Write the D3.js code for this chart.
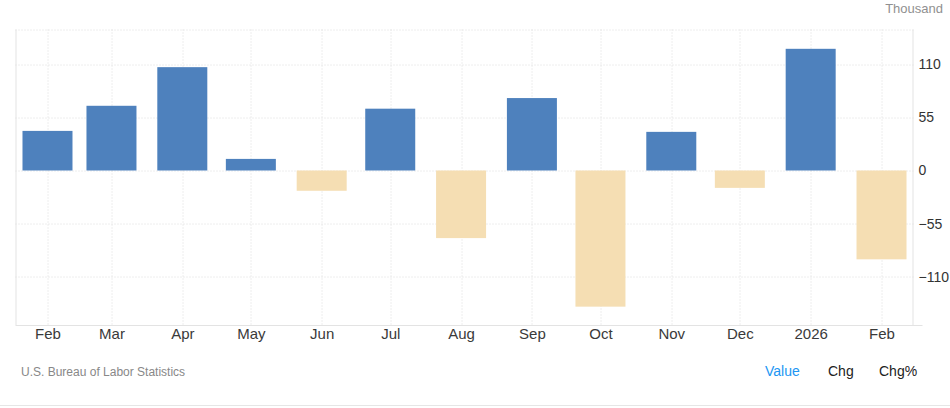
<!DOCTYPE html>
<html>
<head>
<meta charset="utf-8">
<script src="https://cdn.jsdelivr.net/npm/d3@7"></script>
<style>
  body { margin: 0; background: #fff; }
  svg { display: block; font-family: "Liberation Sans", Arial, sans-serif; }
</style>
</head>
<body>
<div id="chart"></div>
<script>
// monthly values, thousand
const months = ["2025-02-01", "2025-03-01", "2025-04-01", "2025-05-01", "2025-06-01", "2025-07-01",
  "2025-08-01", "2025-09-01", "2025-10-01", "2025-11-01", "2025-12-01", "2026-01-01", "2026-02-01"];
const values = [41, 67, 107, 12, -21, 64, -70, 75, -141, 40, -18, 126, -92];
const tickLabels = ["Feb", "Mar", "Apr", "May", "Jun", "Jul", "Aug", "Sep", "Oct", "Nov", "Dec", "2026", "Feb"];
const yTicks = [-110, -55, 0, 55, 110];
const yDomain = [-160, 146];

const width = 950, height = 408;
const margin = { top: 29.5, right: 36.5, bottom: 83, left: 15.5 };
const innerW = width - margin.left - margin.right;
const innerH = height - margin.top - margin.bottom;

const parse = d3.timeParse("%Y-%m-%d");
const data = months.map((m, i) => ({ date: parse(m), value: values[i] }));

const svg = d3.select("#chart").append("svg")
  .attr("width", width)
  .attr("height", height);

const chart = svg.append("g")
  .attr("transform", `translate(${margin.left},${margin.top})`);

const x = d3.scaleTime()
  .domain([d3.timeDay.offset(data[0].date, -14), d3.timeDay.offset(data[data.length - 1].date, 14)])
  .range([0, innerW]);

const y = d3.scaleLinear()
  .domain(yDomain)
  .range([innerH, 0]);

// grid
chart.append("g")
  .selectAll("line")
  .data(data)
  .join("line")
  .attr("x1", d => Math.round(x(d.date)) + 0.5)
  .attr("x2", d => Math.round(x(d.date)) + 0.5)
  .attr("y1", 0)
  .attr("y2", innerH)
  .attr("stroke", "#dcdcdc")
  .attr("stroke-dasharray", "1,2");

chart.append("g")
  .selectAll("line")
  .data(yTicks.concat([yDomain[1]]))
  .join("line")
  .attr("x1", 0)
  .attr("x2", innerW)
  .attr("y1", d => Math.round(y(d)) + 0.5)
  .attr("y2", d => Math.round(y(d)) + 0.5)
  .attr("stroke", "#dcdcdc")
  .attr("stroke-dasharray", "1,2");

// frame: left, right, bottom
chart.append("line")
  .attr("x1", 0.5).attr("x2", 0.5).attr("y1", 0).attr("y2", innerH)
  .attr("stroke", "#e3e3e3");
chart.append("line")
  .attr("x1", innerW - 0.5).attr("x2", innerW - 0.5).attr("y1", 0).attr("y2", innerH)
  .attr("stroke", "#e3e3e3");
chart.append("line")
  .attr("x1", 0).attr("x2", innerW + 9).attr("y1", innerH + 0.5).attr("y2", innerH + 0.5)
  .attr("stroke", "#e3e3e3");

// bars
const barW = 50;
chart.append("g")
  .selectAll("rect")
  .data(data)
  .join("rect")
  .attr("x", d => x(d.date) - barW / 2)
  .attr("width", barW)
  .attr("y", d => y(Math.max(0, d.value)))
  .attr("height", d => Math.abs(y(d.value) - y(0)))
  .attr("fill", d => d.value >= 0 ? "#4e81bd" : "#f5deb3");

// x axis labels
const xAxis = d3.axisBottom(x)
  .tickValues(data.map(d => d.date))
  .tickFormat((d, i) => tickLabels[i])
  .tickSize(0)
  .tickPadding(3);

chart.append("g")
  .attr("transform", `translate(0,${innerH})`)
  .call(xAxis)
  .call(g => g.select(".domain").remove())
  .selectAll("text")
  .attr("font-size", 15)
  .attr("font-family", "Liberation Sans, Arial, sans-serif")
  .attr("fill", "#3a3a3a");

// y axis labels
const yAxis = d3.axisRight(y)
  .tickValues(yTicks)
  .tickSize(0)
  .tickPadding(5);

chart.append("g")
  .attr("transform", `translate(${innerW},0)`)
  .call(yAxis)
  .call(g => g.select(".domain").remove())
  .selectAll("text")
  .attr("font-size", 14)
  .attr("font-family", "Liberation Sans, Arial, sans-serif")
  .attr("fill", "#333");

svg.append("text")
  .attr("x", 943)
  .attr("y", 13)
  .attr("text-anchor", "end")
  .attr("font-size", 13)
  .attr("fill", "#909090")
  .text("Thousand");

svg.append("text")
  .attr("x", 21)
  .attr("y", 376)
  .attr("font-size", 12)
  .attr("fill", "#888")
  .text("U.S. Bureau of Labor Statistics");

const toggles = [
  { label: "Value", x: 765, color: "#2196f3" },
  { label: "Chg", x: 828, color: "#222" },
  { label: "Chg%", x: 879, color: "#222" }
];
svg.selectAll(".toggle")
  .data(toggles)
  .join("text")
  .attr("class", "toggle")
  .attr("x", d => d.x)
  .attr("y", 376)
  .attr("font-size", 14)
  .attr("fill", d => d.color)
  .text(d => d.label);

svg.append("line")
  .attr("x1", 0).attr("x2", width)
  .attr("y1", 405.5).attr("y2", 405.5)
  .attr("stroke", "#e6e6e6");
</script>
</body>
</html>
